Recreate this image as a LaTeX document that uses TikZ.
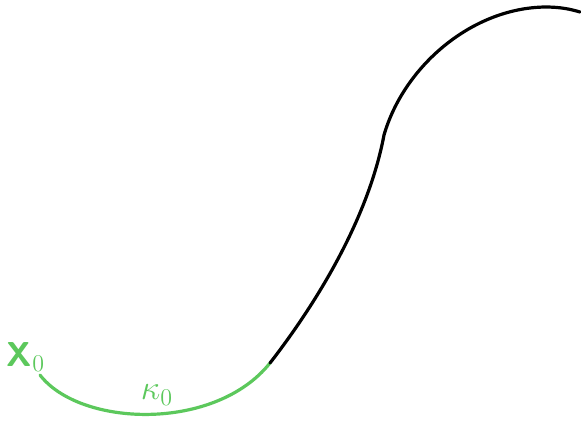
\documentclass[tikz,border=0pt]{standalone}
\usepackage{amsmath,amssymb}
\usepackage{xcolor}
\usepackage{tikz}
\usetikzlibrary{positioning}
\definecolor{CurveGreen}{HTML}{5CC85C}
\definecolor{CurveDark}{HTML}{000000}
\tikzset{
  greenpart/.style={line width=1.6pt,draw=CurveGreen,line cap=round},
  darkpart/.style={line width=1.6pt,draw=CurveDark,line cap=round},
  curvelabel/.style={text=CurveGreen,font=\LARGE,inner sep=0pt}
}
\begin{document}
\begin{tikzpicture}[x=0.5pt,y=-0.5pt]
\useasboundingbox (0,0) rectangle (581,420);
\coordinate (start) at (40,375);
\coordinate (join) at (270,363);
\coordinate (kink) at (384,135);
\coordinate (crest) at (545,7);
\coordinate (finish) at (580,12);
\draw[greenpart] (start) .. controls (80,427) and (215,432) .. (join);
\draw[darkpart] (join) .. controls (315,305) and (368,220) .. (kink)
  .. controls (404,66) and (472,8) .. (crest)
  .. controls (560,7) and (570,9) .. (finish);
\node[curvelabel] (xzero) at (26,357) {\textsf{\textbf{X}}$_0$};
\node[curvelabel] (kappazero) at (157,395) {$\kappa_0$};
\end{tikzpicture}
\end{document}
